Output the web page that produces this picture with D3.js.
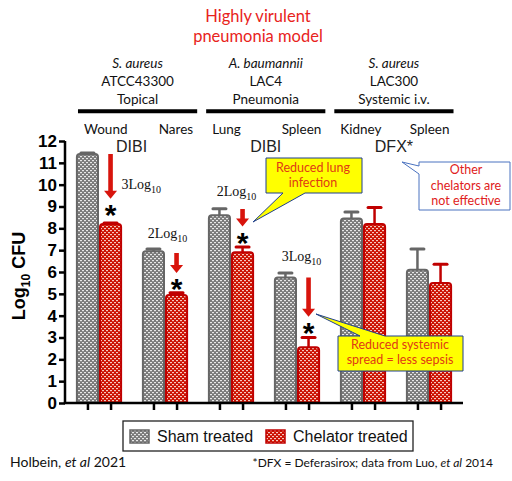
<!DOCTYPE html>
<html>
<head>
<meta charset="utf-8">
<script src="https://cdn.jsdelivr.net/npm/d3@7"></script>
<style>
  body { margin: 0; background: #fff; }
  svg { display: block; }
</style>
</head>
<body>
<svg id="chart"></svg>
<script>
// data
const groups = ['Wound', 'Nares', 'Lung', 'Spleen A', 'Kidney', 'Spleen S'];
const subLabels = ['Wound', 'Nares', 'Lung', 'Spleen', 'Kidney', 'Spleen'];
const shamValues = [11.4, 6.95, 8.6, 5.75, 8.45, 6.1];
const shamErr = [0.05, 0.1, 0.3, 0.2, 0.3, 0.95];
const chelValues = [8.2, 4.95, 6.9, 2.55, 8.2, 5.5];
const chelErr = [0.05, 0.1, 0.25, 0.45, 0.75, 0.85];
const yTicks = [0, 1, 2, 3, 4, 5, 6, 7, 8, 9, 10, 11, 12];
const models = ['sa1', 'ab', 'sa2'];
const modelSpecies = ['S. aureus', 'A. baumannii', 'S. aureus'];
const modelStrain = ['ATCC43300', 'LAC4', 'LAC300'];
const modelRoute = ['Topical', 'Pneumonia', 'Systemic i.v.'];
const chelatorNames = ['DIBI', 'DIBI', 'DFX*'];
// reductions marked with an arrow: group, log drop, arrow from/to (in log units), label height
const drops = [
  { g: 'Wound', n: '3', from: 11.4, to: 9.35, label: 9.8, dx: 11, anchor: 'start' },
  { g: 'Nares', n: '2', from: 6.87, to: 5.95, label: 7.55, dx: -9, anchor: 'middle' },
  { g: 'Lung', n: '2', from: 8.89, to: 8.08, label: 9.5, dx: -6, anchor: 'middle' },
  { g: 'Spleen A', n: '3', from: 5.75, to: 3.95, label: 6.5, dx: -7, anchor: 'middle' }
];

const W = 512, H = 481;
const svg = d3.select('#chart').attr('width', W).attr('height', H);

const x0 = d3.scaleBand().domain(groups).range([66, 462]).paddingInner(0.3).paddingOuter(0.15);
const x1 = d3.scaleBand().domain(['sham', 'chel']).range([0, x0.bandwidth()]);
const y = d3.scaleLinear().domain([0, 12]).range([403, 141]);
const xm = d3.scaleBand().domain(models).range([73.5, 458]).paddingInner(0.07).paddingOuter(0.035);

const calibri = 'Lato, "Open Sans", sans-serif';

// fill patterns
const defs = svg.append('defs');
function makePattern(id, base, light) {
  const p = defs.append('pattern').attr('id', id)
    .attr('patternUnits', 'userSpaceOnUse').attr('width', 4).attr('height', 4);
  p.append('rect').attr('width', 4).attr('height', 4).attr('fill', base);
  p.append('rect').attr('x', 0).attr('y', 0).attr('width', 2).attr('height', 1.2).attr('fill', light);
  p.append('rect').attr('x', 2).attr('y', 2).attr('width', 2).attr('height', 1.2).attr('fill', light);
}
makePattern('patGray', '#7a7a7a', '#e8e8e8');
makePattern('patRed', '#cc1000', '#f6c8c0');

// title
svg.append('text').attr('x', 258).attr('y', 22).attr('text-anchor', 'middle')
  .style('font', '16.5px ' + calibri).attr('fill', '#e8231c').text('Highly virulent');
svg.append('text').attr('x', 258).attr('y', 42).attr('text-anchor', 'middle')
  .style('font', '16.5px ' + calibri).attr('fill', '#e8231c').text('pneumonia model');

// model headers
const hdr = svg.append('g').style('font', '13.5px ' + calibri).attr('fill', '#111');
models.forEach((m, i) => {
  const cx = xm(m) + xm.bandwidth() / 2;
  hdr.append('text').attr('x', cx).attr('y', 68).attr('text-anchor', 'middle')
    .style('font-style', 'italic').text(modelSpecies[i]);
  hdr.append('text').attr('x', cx).attr('y', 86).attr('text-anchor', 'middle').text(modelStrain[i]);
  hdr.append('text').attr('x', cx).attr('y', 104).attr('text-anchor', 'middle').text(modelRoute[i]);
  hdr.append('line').attr('x1', xm(m)).attr('x2', xm(m) + xm.bandwidth())
    .attr('y1', 111.3).attr('y2', 111.3).attr('stroke', '#000').attr('stroke-width', 4);
  hdr.append('text').attr('x', xm(m) + 6).attr('y', 133.5).text(subLabels[i * 2]);
  hdr.append('text').attr('x', xm(m) + xm.bandwidth() - 4).attr('y', 133.5)
    .attr('text-anchor', 'end').text(subLabels[i * 2 + 1]);
  svg.append('text').attr('x', cx - (i === 0 ? 6 : 0)).attr('y', 152).attr('text-anchor', 'middle')
    .style('font', '16px "Liberation Sans", Arial, sans-serif').attr('fill', '#222')
    .text(chelatorNames[i]);
});

// bars
function barPath(x, w, v) {
  const t = y(v), b = y(0), r = 3;
  return `M${x},${b} V${t + r} Q${x},${t} ${x + r},${t} H${x + w - r} Q${x + w},${t} ${x + w},${t + r} V${b} Z`;
}
const series = [
  { key: 'sham', vals: shamValues, err: shamErr, pat: 'url(#patGray)', line: '#666' },
  { key: 'chel', vals: chelValues, err: chelErr, pat: 'url(#patRed)', line: '#c00000' }
];
series.forEach(s => {
  const g = svg.append('g');
  g.selectAll('line.err').data(groups).enter().append('line')
    .attr('x1', d => x0(d) + x1(s.key) + x1.bandwidth() / 2)
    .attr('x2', d => x0(d) + x1(s.key) + x1.bandwidth() / 2)
    .attr('y1', (d, i) => y(s.vals[i]))
    .attr('y2', (d, i) => y(s.vals[i] + s.err[i]))
    .attr('stroke', s.line).attr('stroke-width', 2.5);
  g.selectAll('line.cap').data(groups).enter().append('line')
    .attr('x1', d => x0(d) + x1(s.key) + x1.bandwidth() / 2 - 6.5)
    .attr('x2', d => x0(d) + x1(s.key) + x1.bandwidth() / 2 + 6.5)
    .attr('y1', (d, i) => y(s.vals[i] + s.err[i]))
    .attr('y2', (d, i) => y(s.vals[i] + s.err[i]))
    .attr('stroke', s.line).attr('stroke-width', 3).attr('stroke-linecap', 'round');
  g.selectAll('path').data(groups).enter().append('path')
    .attr('d', (d, i) => barPath(x0(d) + x1(s.key) + 1, x1.bandwidth() - 2, s.vals[i]))
    .attr('fill', s.pat).attr('stroke', s.line).attr('stroke-width', 2);
});

// axes
const yAxis = svg.append('g').attr('transform', 'translate(65,0)')
  .call(d3.axisLeft(y).tickValues(yTicks).tickSize(6).tickPadding(2).tickFormat(d3.format('d')));
yAxis.select('.domain').attr('d', `M0,${y(12)} V${y(0)}`).attr('stroke-width', 2.5);
yAxis.selectAll('.tick line').attr('stroke-width', 2.5);
yAxis.selectAll('.tick text')
  .style('font', 'bold 17px "Liberation Sans", Arial, sans-serif').attr('fill', '#000');

const xTickVals = [];
groups.forEach(g => ['sham', 'chel'].forEach(k => xTickVals.push(x0(g) + x1(k) + x1.bandwidth() / 2)));
const xLin = d3.scaleLinear().domain([65, 463]).range([65, 463]);
const xAxis = svg.append('g').attr('transform', `translate(0,${y(0)})`)
  .call(d3.axisBottom(xLin).tickValues(xTickVals).tickSize(7).tickFormat(''));
xAxis.select('.domain').attr('d', 'M63.8,0 H463').attr('stroke-width', 2.5);
xAxis.selectAll('.tick line').attr('stroke-width', 2.5);

// y label
const yl = svg.append('text').attr('transform', `translate(25,${(y(0) + y(12)) / 2 + 4}) rotate(-90)`)
  .attr('text-anchor', 'middle')
  .style('font', 'bold 18px "Liberation Sans", Arial, sans-serif').attr('fill', '#000');
yl.append('tspan').text('Log');
yl.append('tspan').attr('dy', 5).style('font-size', '12px').text('10');
yl.append('tspan').attr('dy', -5).text(' CFU');

// reduction arrows, labels, asterisks
drops.forEach(d => {
  const cx = x0(d.g) + x1('chel') + x1.bandwidth() / 2;
  const top = y(d.from), tip = y(d.to);
  svg.append('path')
    .attr('d', `M${cx - 2.3},${top} H${cx + 2.3} V${tip - 8} H${cx + 6.5} L${cx},${tip} L${cx - 6.5},${tip - 8} H${cx - 2.3} Z`)
    .attr('fill', '#d8140c');
  const t = svg.append('text').attr('x', cx + d.dx).attr('y', y(d.label)).attr('text-anchor', d.anchor)
    .style('font', '14px "Liberation Serif", "DejaVu Serif", serif').attr('fill', '#111');
  t.append('tspan').text(d.n + 'Log');
  t.append('tspan').attr('dy', 4).style('font-size', '10px').text('10');
  svg.append('text').attr('x', cx).attr('y', tip + 26).attr('text-anchor', 'middle')
    .style('font', 'bold 30px "Liberation Sans", Arial, sans-serif').attr('fill', '#000').text('*');
});

// callouts drawn over the bars
function callout(d, fill, stroke) {
  svg.append('path').attr('d', d).attr('fill', fill).attr('stroke', stroke).attr('stroke-width', 1);
}
callout('M266,158 H362 V193 H305 L253,222 L283,193 H266 Z', '#ffff00', '#1f3f8f');
callout('M419,162 H510 V210 H419 V174 L402,162 L419,166 Z', '#fff', '#4a72c0');
callout('M338,336 H360 L316,314 L385,336 H463 V371 H338 Z', '#ffff00', '#1f3f8f');

// callout text
const ct = svg.append('g').style('font', '12.5px ' + calibri).attr('text-anchor', 'middle');
ct.append('text').attr('x', 313).attr('y', 172).attr('fill', '#e03a14').text('Reduced lung');
ct.append('text').attr('x', 313).attr('y', 187).attr('fill', '#e03a14').text('infection');
ct.append('text').attr('x', 466).attr('y', 174).attr('fill', '#e02020').text('Other');
ct.append('text').attr('x', 466).attr('y', 190).attr('fill', '#e02020').text('chelators are');
ct.append('text').attr('x', 466).attr('y', 205).attr('fill', '#e02020').text('not effective');
ct.append('text').attr('x', 400).attr('y', 349).attr('fill', '#e03a14').text('Reduced systemic');
ct.append('text').attr('x', 400).attr('y', 364).attr('fill', '#e03a14').text('spread = less sepsis');

// legend
const lg = svg.append('g');
lg.append('rect').attr('x', 123).attr('y', 421).attr('width', 290).attr('height', 30)
  .attr('fill', '#fff').attr('stroke', '#222').attr('stroke-width', 1.3);
const legendItems = [
  { label: 'Sham treated', pat: 'url(#patGray)', line: '#666', x: 130 },
  { label: 'Chelator treated', pat: 'url(#patRed)', line: '#c00000', x: 266 }
];
legendItems.forEach(it => {
  lg.append('rect').attr('x', it.x).attr('y', 430).attr('width', 19).attr('height', 13)
    .attr('fill', it.pat).attr('stroke', it.line).attr('stroke-width', 1.5);
  lg.append('text').attr('x', it.x + 27).attr('y', 442)
    .style('font', '16px "Liberation Sans", Arial, sans-serif').attr('fill', '#111').text(it.label);
});

// footer
const f1 = svg.append('text').attr('x', 10).attr('y', 467)
  .style('font', '14px ' + calibri).attr('fill', '#111');
f1.append('tspan').text('Holbein, ');
f1.append('tspan').style('font-style', 'italic').text('et al');
f1.append('tspan').text(' 2021');
const f2 = svg.append('text').attr('x', 493).attr('y', 467).attr('text-anchor', 'end')
  .style('font', '12px ' + calibri).attr('fill', '#111');
f2.append('tspan').text('*DFX = Deferasirox; data from Luo, ');
f2.append('tspan').style('font-style', 'italic').text('et al');
f2.append('tspan').text(' 2014');
</script>
</body>
</html>
